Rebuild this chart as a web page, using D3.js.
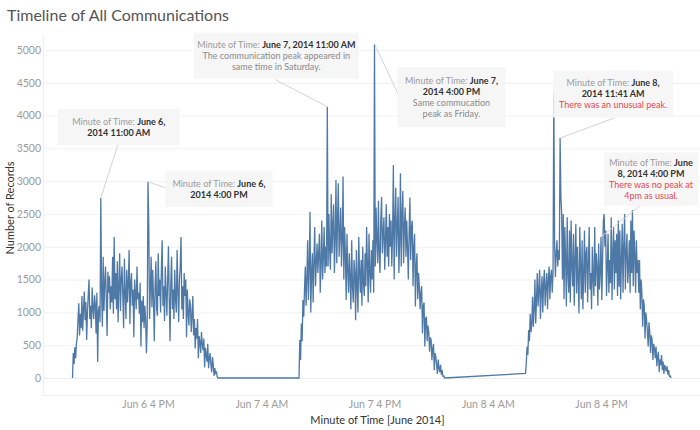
<!DOCTYPE html>
<html>
<head>
<meta charset="utf-8">
<script src="https://cdn.jsdelivr.net/npm/d3@7"></script>
<style>
  html, body { margin: 0; padding: 0; background: #fff; }
  svg { display: block; font-family: "Lato", "Noto Sans", sans-serif; }
</style>
</head>
<body>
<svg id="chart" width="700" height="430"></svg>
<script>
// ---------------- DATA (5-minute readings, 08:00 to 23:25 each day) ----------------
const dayStarts = ["2014-06-06T08:00:00", "2014-06-07T08:00:00", "2014-06-08T08:00:00"];
const stepMinutes = 5;

const day1Values = [
 0,380,210,470,300,520,620,900,1140,650,980,760,
 1250,720,1050,1320,880,1160,580,1000,1260,1500,900,1100,
 760,1380,1050,900,1260,1120,680,1300,245,1020,1100,850,
 2744,1300,780,1850,1020,1450,1700,1180,640,1620,1300,1550,
 1050,1400,1150,1850,980,2150,1200,1600,1050,1780,850,1400,
 1900,1020,1500,1700,1250,760,1820,1300,900,1650,1150,1450,
 1950,820,1450,1600,1100,1350,620,1500,1300,1050,1700,1200,
 1300,980,1450,480,1180,850,1250,760,1100,900,376,820,
 2990,2330,900,1350,1850,1080,1650,1200,560,1400,1780,1050,
 950,1900,1250,1500,1000,1650,2100,1100,1400,870,1700,1300,
 950,1500,2010,1200,560,1450,1850,1050,1350,900,1650,1200,
 1000,1950,1350,850,1500,1700,2150,1050,1400,900,1600,1250,
 1500,620,1350,1000,800,1200,1100,700,950,1250,650,900,
 450,760,600,900,300,640,550,380,700,520,420,600,
 160,460,350,250,520,150,300,380,200,90,320,200,
 30,150,60,100,20,0];

const day2Values = [
 0,580,275,830,560,1190,935,1350,1700,1100,1500,2100,
 1190,1700,2535,1000,1600,1900,1150,1800,2300,1400,1750,2050,
 1600,1900,2200,1300,1750,2400,1500,1850,2300,1600,2000,1700,
 4136,1700,2500,1950,1650,2800,1900,2300,2650,1600,2100,3020,
 1750,2400,2970,1850,2200,2600,1700,2100,3070,1500,2300,1900,
 1190,2200,1650,1300,1900,1500,1050,2100,1400,1150,1800,1600,
 880,1950,1400,1000,2150,1600,1300,1800,1100,2000,1450,1250,
 1900,1400,2300,1700,1150,2200,1600,1300,1950,1500,2100,1300,
 5091,1700,2600,2100,1750,2700,1900,1600,2400,2760,1900,2200,
 2450,1650,2100,2650,1850,2300,1700,2500,2000,2400,1700,2200,
 3245,1500,2400,2900,1850,2300,2760,1600,2100,3120,1700,2500,
 2850,1750,2300,2600,1850,2400,2000,1500,2200,2750,1800,2300,
 2400,1400,2000,2200,1090,1700,1900,1200,1600,1400,1050,1300,
 1400,680,1100,1150,480,900,935,560,800,700,400,620,
 580,270,450,520,120,380,325,200,60,280,150,90,
 200,50,120,20,40,0];

const day3Values = [
 70,225,480,350,730,560,980,700,820,1240,780,1050,
 1500,830,1200,1600,1090,1350,1650,900,1300,1550,1000,1450,
 1650,1100,1400,1600,1050,1500,1700,1200,1550,1650,1300,1600,
 4349,2050,1540,1900,2100,1700,1950,1800,3658,2760,2500,1500,
 2500,1200,2300,1800,1090,2450,1600,1300,2250,1150,2400,1700,
 1400,2200,1100,1800,2350,1290,2000,1500,985,2300,1700,1200,
 2100,1050,1600,2250,1300,1900,2000,1150,1750,2300,1350,1600,
 1050,2000,1500,1250,2300,1400,1900,1700,1100,2050,1350,1600,
 2150,1190,1800,2400,2500,2000,2250,1250,1700,2200,1300,1800,
 1450,2450,1190,1900,2300,1350,2100,1600,2200,1250,2400,1390,
 2250,1200,1800,2350,1300,2000,2500,1350,1900,2200,1450,1700,
 2100,1300,2400,1600,2560,1400,2250,1900,1300,2100,1600,1800,
 1300,1800,1050,1500,1290,780,1200,1100,600,1000,880,700,
 480,850,700,380,650,580,275,520,450,300,480,180,
 325,400,90,280,200,350,120,250,60,200,150,100,
 180,50,120,20,40,0];

const yTicks = [0,500,1000,1500,2000,2500,3000,3500,4000,4500,5000];
const xTickDates = ["2014-06-06T16:00:00","2014-06-07T04:00:00","2014-06-07T16:00:00","2014-06-08T04:00:00","2014-06-08T16:00:00"];
const xTickLabels = ["Jun 6 4 PM","Jun 7 4 AM","Jun 7 4 PM","Jun 8 4 AM","Jun 8 4 PM"];

const annotationDates = ["2014-06-06T11:00:00","2014-06-06T16:00:00","2014-06-07T11:00:00","2014-06-07T16:00:00","2014-06-08T11:40:00","2014-06-08T16:00:00"];
const annotationValues = [2744, 2990, 4136, 5091, 3658, 2150];
const annotationLabels = ["June 6,|2014 11:00 AM", "June 6,|2014 4:00 PM", "June 7, 2014 11:00 AM", "June 7,|2014 4:00 PM", "June 8,|2014 11:41 AM", "June|8, 2014 4:00 PM"];
const annotationNotes = ["", "", "The communication peak appeared in|same time in Saturday.", "Same commucation|peak as Friday.", "There was an unusual peak.", "There was no peak at|4pm as usual."];
const annotationNoteKind = ["", "", "grey", "grey", "red", "red"];

// ---------------- LAYOUT ----------------
const plotLeft = 43, plotRight = 700, plotTop = 35, plotBottom = 395;
const parse = d3.isoParse;
const x = d3.scaleTime()
  .domain([parse("2014-06-06T16:00:00"), parse("2014-06-08T16:00:00")])
  .range([148, 601]);
const y = d3.scaleLinear().domain([0, 5000]).range([378, 50]);

// annotation box layout: offset of box centre from the point, box size, leader end
const annLayout = [
  {dx: 18, dy: -71, w: 122, h: 36, lx: 17, ly: -53},
  {dx: 71, dy: 7, w: 107, h: 36, lx: 18, ly: 6},
  {dx: -51, dy: -51, w: 165, h: 46, lx: -52, ly: -27},
  {dx: 77, dy: 53, w: 108, h: 60, lx: 25, ly: 53},
  {dx: 53, dy: -44, w: 120, h: 47, lx: 54, ly: -20},
  {dx: 50, dy: -58, w: 94, h: 53, lx: 40, ly: -32}
];

const svg = d3.select("#chart");

svg.append("text").attr("x", 7).attr("y", 21)
  .attr("font-size", 16).attr("fill", "#555")
  .text("Timeline of All Communications");

const grid = svg.append("g");
grid.selectAll("line").data(yTicks).join("line")
  .attr("x1", plotLeft).attr("x2", plotRight)
  .attr("y1", d => y(d) + 0.5).attr("y2", d => y(d) + 0.5)
  .attr("stroke", d => d === 0 ? "#ececec" : "#f1f1f1").attr("stroke-width", 1);
svg.append("line").attr("x1", plotLeft + 0.5).attr("x2", plotLeft + 0.5)
  .attr("y1", plotTop).attr("y2", plotBottom).attr("stroke", "#f0f0f0");
svg.append("line").attr("x1", plotLeft).attr("x2", plotRight)
  .attr("y1", plotBottom + 0.5).attr("y2", plotBottom + 0.5).attr("stroke", "#f0f0f0");

const yAxis = d3.axisLeft(y).tickValues(yTicks).tickSize(0).tickPadding(0).tickFormat(d3.format("d"));
const gy = svg.append("g").attr("transform", `translate(${plotLeft - 2},0)`).call(yAxis);
gy.select(".domain").remove();
gy.selectAll("text").attr("font-size", 10.5).attr("fill", "#9a9a9a").attr("font-family", "Lato, 'Noto Sans', sans-serif");

const xAxis = d3.axisBottom(x).tickValues(xTickDates.map(parse)).tickSize(0).tickPadding(0)
  .tickFormat((d, i) => xTickLabels[i]);
const gx = svg.append("g").attr("transform", `translate(0,${plotBottom + 6})`).call(xAxis);
gx.select(".domain").remove();
gx.selectAll("text").attr("font-size", 10.5).attr("fill", "#9a9a9a").attr("font-family", "Lato, 'Noto Sans', sans-serif");

svg.append("text").attr("x", (plotLeft + plotRight) / 2 + 6).attr("y", 424)
  .attr("text-anchor", "middle").attr("font-size", 11).attr("fill", "#333")
  .text("Minute of Time [June 2014]");
svg.append("text").attr("transform", "translate(14,208) rotate(-90)")
  .attr("text-anchor", "middle").attr("font-size", 11).attr("fill", "#333")
  .text("Number of Records");

const allDays = [day1Values, day2Values, day3Values];
const series = [];
allDays.forEach((vals, k) => {
  const start = parse(dayStarts[k]);
  vals.forEach((v, i) => series.push({t: new Date(+start + i * stepMinutes * 60000), v}));
});
const line = d3.line().x(d => x(d.t)).y(d => y(d.v));
svg.append("path").datum(series).attr("d", line)
  .attr("fill", "none").attr("stroke", "#4e79a7").attr("stroke-width", 1.3)
  .attr("stroke-linejoin", "miter").attr("stroke-miterlimit", 2);

const ann = svg.append("g");
annotationDates.forEach((ds, i) => {
  const px = x(parse(ds)), py = y(annotationValues[i]);
  const L = annLayout[i];
  const cx = px + L.dx, cy = py + L.dy;
  ann.append("line").attr("x1", px).attr("y1", py).attr("x2", px + L.lx).attr("y2", py + L.ly)
    .attr("stroke", "#d4d4d4").attr("stroke-width", 1);
  ann.append("rect").attr("x", cx - L.w / 2).attr("y", cy - L.h / 2)
    .attr("width", L.w).attr("height", L.h).attr("fill", "#f5f5f5").attr("fill-opacity", 0.93);

  const labelParts = annotationLabels[i].split("|");
  const noteParts = annotationNotes[i] ? annotationNotes[i].split("|") : [];
  const nLines = labelParts.length + noteParts.length;
  const lh = 11;
  const top = cy - (nLines - 1) * lh / 2;
  const t = ann.append("text").attr("text-anchor", "middle").attr("font-size", 9);
  labelParts.forEach((part, j) => {
    const ts = t.append("tspan").attr("x", cx).attr("y", top + j * lh + 3.2);
    if (j === 0) {
      ts.append("tspan").attr("fill", "#9a9a9a").text("Minute of Time: ");
      ts.append("tspan").attr("fill", "#333").attr("font-weight", "bold").text(part);
    } else {
      ts.attr("fill", "#333").attr("font-weight", "bold").text(part);
    }
  });
  noteParts.forEach((part, j) => {
    t.append("tspan").attr("x", cx).attr("y", top + (labelParts.length + j) * lh + 3.2)
      .attr("fill", annotationNoteKind[i] === "red" ? "#e5484d" : "#8a8a8a").text(part);
  });
});
</script>
</body>
</html>
